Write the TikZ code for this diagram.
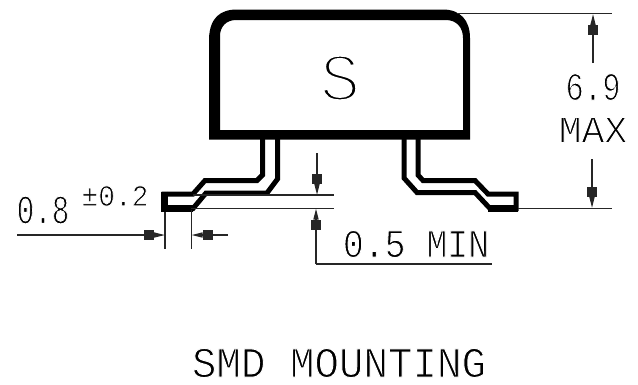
\documentclass[tikz,border=0pt]{standalone}
\usepackage{fontspec}
\usepackage{graphicx}
\setmainfont{Liberation Mono}
\usetikzlibrary{arrows.meta}
\tikzset{
  lead/.style={line width=5pt,line join=miter},
  foot/.style={line width=7pt},
  dim/.style={line width=1.3pt,black!85},
  dimarrow/.style={dim,-{Rectangle[length=10pt,width=10pt,sep=0pt]Triangle[length=11pt,width=5pt]}},
  lbl/.style={inner sep=0pt,outer sep=0pt,anchor=center},
}
\newcommand{\thintext}[2]{\special{pdf:code q 2 Tr 1 1 1 RG #1 w}#2\special{pdf:code Q}}
\newcommand{\tx}[5]{\scalebox{#1}[#2]{\fontsize{#3}{#3}\selectfont\thintext{#4}{#5}}}
\begin{document}
\begin{tikzpicture}[x=1pt,y=-1pt]
\useasboundingbox (0,0) rectangle (638,384);
% named end points
\coordinate (topR) at (457,13.5);
\coordinate (topE) at (612,13.5);
\coordinate (footR) at (518,208.3);
\coordinate (footE) at (612,208.3);
\coordinate (upT) at (593,14);
\coordinate (upS) at (593,63);
\coordinate (dnT) at (592,208);
\coordinate (dnS) at (592,159);
\coordinate (gapA) at (193,195);
\coordinate (gapAE) at (334,195);
\coordinate (gapB) at (191,208.3);
\coordinate (gapBE) at (334,208.3);
\coordinate (gapTT) at (317,195);
\coordinate (gapTS) at (317,153);
\coordinate (gapBT) at (316,208.5);
\coordinate (gapC) at (316,264);
\coordinate (gapD) at (492,264);
\coordinate (wL) at (165,212);
\coordinate (wLE) at (165,249);
\coordinate (wR) at (191.5,210);
\coordinate (wRE) at (191.5,249);
\coordinate (wLT) at (165,235);
\coordinate (wLS) at (17,235);
\coordinate (wRT) at (191.5,235);
\coordinate (wRS) at (228,235);
% package body
\fill[even odd rule]
  (209,139.5) -- (209,38) .. controls (210,18) and (220,9.5) .. (237,9.5) -- (443,9.5)
  .. controls (460,9.5) and (470,20) .. (470,38) -- (470,139.5) -- cycle
  (220,130) -- (220,36) .. controls (220,27) and (226,20) .. (236,20) -- (446,20)
  .. controls (456,20) and (463,27) .. (463,38) -- (463,130) -- cycle;
% left lead
\draw[lead] (262.5,139) -- (262.5,175) -- (257,180.5) -- (205,180.5) -- (193,194) -- (164,194)
  -- (164,208.5) -- (193,208.5) -- (206,193) -- (267,193) -- (277.5,179) -- (277.5,139);
\draw[foot] (161,208.5) -- (193,208.5);
\draw[foot] (164.5,191.5) -- (164.5,212);
% right lead
\draw[lead] (404,139) -- (404,178) -- (417,192.5) -- (475,192.5) -- (490,208.5) -- (516,208.5)
  -- (516,194) -- (488,194) -- (475,180.5) -- (423,180.5) -- (418,175) -- (418,139);
\draw[foot] (488,208.5) -- (518,208.5);
% dimension lines
\draw[dim] (topR) -- (topE);
\draw[dim] (footR) -- (footE);
\draw[dimarrow] (upS) -- (upT);
\draw[dimarrow] (dnS) -- (dnT);
\draw[dim] (gapA) -- (gapAE);
\draw[dim] (gapB) -- (gapBE);
\draw[dimarrow] (gapTS) -- (gapTT);
\draw[dimarrow] (gapC) -- (gapBT);
\draw[dim] (gapC) -- (gapD);
\draw[dim] (wL) -- (wLE);
\draw[dim] (wR) -- (wRE);
\draw[dimarrow] (wLS) -- (wLT);
\draw[dimarrow] (wRS) -- (wRT);
% labels
\node[lbl] (s) at (340,78) {\tx{1}{1}{68}{3.5}{S}};
\node[lbl] (six) at (593,87) {\tx{0.85}{1.1}{36}{1}{6.9}};
\node[lbl] (max) at (593,130) {\tx{1}{1}{38}{1}{MAX}};
\node[lbl] (oeight) at (43,210) {\tx{0.77}{1.08}{38}{1}{0.8}};
\node[lbl] (pm) at (115,196) {\tx{0.93}{1}{30}{0.8}{±0.2}};
\node[lbl] (omin) at (416,244) {\tx{0.87}{1}{40}{1}{0.5 MIN}};
\node[lbl] (title) at (339,363) {\tx{0.95}{1}{43}{1}{SMD MOUNTING}};
\end{tikzpicture}
\end{document}
